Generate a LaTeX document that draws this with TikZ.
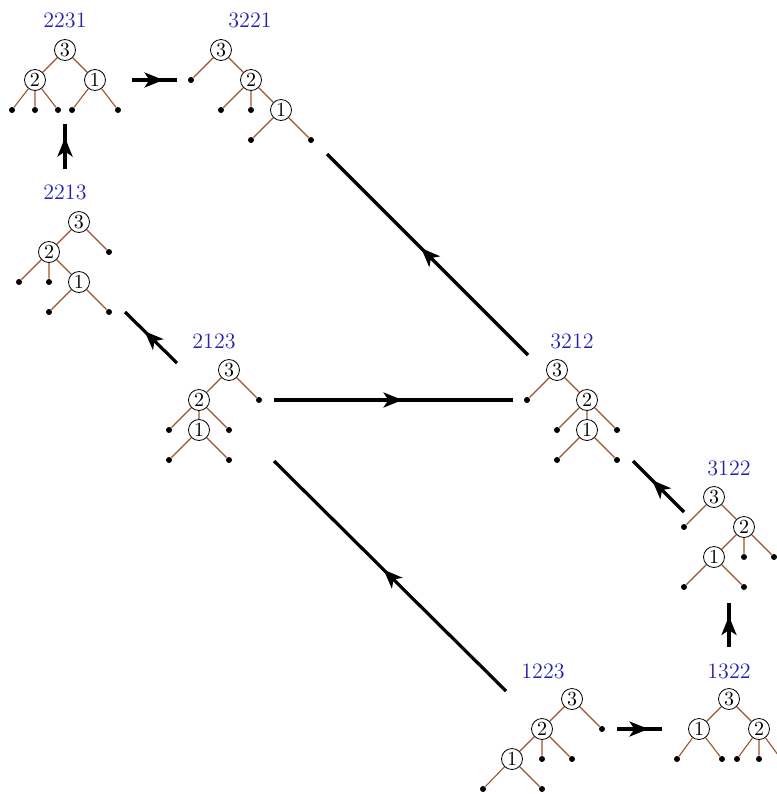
\documentclass[tikz,border=0pt]{standalone}
\usetikzlibrary{arrows.meta, decorations.markings}
\definecolor{branchbrown}{RGB}{160, 82, 45}
\definecolor{tagblue}{RGB}{35, 35, 175}

\begin{document}
\begin{tikzpicture}[
    x=0.5pt, y=-0.5pt,
    vert/.style={circle, draw, thin, fill=white, inner sep=0pt, minimum size=10.5pt, font=\fontsize{10}{12}\selectfont},
    leaf/.style={circle, fill=black, inner sep=0pt, minimum size=3pt},
    branch/.style={draw=branchbrown, line width=0.55pt},
    tag/.style={text=tagblue, font=\fontsize{11}{13}\selectfont},
    flip/.style={line width=1.6pt, postaction={decorate}, decoration={markings, mark=at position 0.5 with {\arrow[xshift=4.5pt]{Stealth[length=9.5pt, width=7.5pt, inset=2.5pt]}}}}
]
\useasboundingbox (0,0) rectangle (777,794);
\clip (0,0) rectangle (777,794);

% 2231
\node[tag] (t2231) at (65,20) {2231};
\node[vert] (a3) at (65,50) {3};
\node[vert] (a2) at (35,80) {2};
\node[vert] (a1) at (95,80) {1};
\node[leaf] (a4) at (12,110) {};
\node[leaf] (a5) at (35,110) {};
\node[leaf] (a6) at (58,110) {};
\node[leaf] (a7) at (72,110) {};
\node[leaf] (a8) at (118,110) {};
\draw[branch] (a3) -- (a2) (a3) -- (a1) (a2) -- (a4) (a2) -- (a5) (a2) -- (a6) (a1) -- (a7) (a1) -- (a8);

% 3221
\node[tag] (t3221) at (250,20) {3221};
\node[vert] (b3) at (221,50) {3};
\node[leaf] (b4) at (191,80) {};
\node[vert] (b2) at (251,80) {2};
\node[leaf] (b5) at (221,110) {};
\node[leaf] (b6) at (251,110) {};
\node[vert] (b1) at (281,110) {1};
\node[leaf] (b7) at (251,140) {};
\node[leaf] (b8) at (311,140) {};
\draw[branch] (b3) -- (b4) (b3) -- (b2) (b2) -- (b5) (b2) -- (b6) (b2) -- (b1) (b1) -- (b7) (b1) -- (b8);

% 2213
\node[tag] (t2213) at (65,192) {2213};
\node[vert] (c3) at (79,222) {3};
\node[vert] (c2) at (49,252) {2};
\node[leaf] (c4) at (109,252) {};
\node[leaf] (c5) at (19,282) {};
\node[leaf] (c6) at (49,282) {};
\node[vert] (c1) at (79,282) {1};
\node[leaf] (c7) at (49,312) {};
\node[leaf] (c8) at (109,312) {};
\draw[branch] (c3) -- (c2) (c3) -- (c4) (c2) -- (c5) (c2) -- (c6) (c2) -- (c1) (c1) -- (c7) (c1) -- (c8);

% 2123
\node[tag] (t2123) at (214,341) {2123};
\node[vert] (d3) at (229,370) {3};
\node[vert] (d2) at (199,400) {2};
\node[leaf] (d4) at (259,400) {};
\node[leaf] (d5) at (169,430) {};
\node[vert] (d1) at (199,430) {1};
\node[leaf] (d6) at (229,430) {};
\node[leaf] (d7) at (169,460) {};
\node[leaf] (d8) at (229,460) {};
\draw[branch] (d3) -- (d2) (d3) -- (d4) (d2) -- (d5) (d2) -- (d1) (d2) -- (d6) (d1) -- (d7) (d1) -- (d8);

% 3212
\node[tag] (t3212) at (572,341) {3212};
\node[vert] (e3) at (557,370) {3};
\node[leaf] (e4) at (527,400) {};
\node[vert] (e2) at (587,400) {2};
\node[leaf] (e5) at (557,430) {};
\node[vert] (e1) at (587,430) {1};
\node[leaf] (e6) at (617,430) {};
\node[leaf] (e7) at (557,460) {};
\node[leaf] (e8) at (617,460) {};
\draw[branch] (e3) -- (e4) (e3) -- (e2) (e2) -- (e5) (e2) -- (e1) (e2) -- (e6) (e1) -- (e7) (e1) -- (e8);

% 3122
\node[tag] (t3122) at (729,468) {3122};
\node[vert] (f3) at (714,497) {3};
\node[leaf] (f4) at (684,527) {};
\node[vert] (f2) at (744,527) {2};
\node[vert] (f1) at (714,557) {1};
\node[leaf] (f5) at (744,557) {};
\node[leaf] (f6) at (774,557) {};
\node[leaf] (f7) at (684,587) {};
\node[leaf] (f8) at (744,587) {};
\draw[branch] (f3) -- (f4) (f3) -- (f2) (f2) -- (f1) (f2) -- (f5) (f2) -- (f6) (f1) -- (f7) (f1) -- (f8);

% 1223
\node[tag] (t1223) at (543,671) {1223};
\node[vert] (g3) at (572,699) {3};
\node[vert] (g2) at (542,729) {2};
\node[leaf] (g4) at (602,729) {};
\node[vert] (g1) at (512,759) {1};
\node[leaf] (g5) at (542,759) {};
\node[leaf] (g6) at (572,759) {};
\node[leaf] (g7) at (483,789) {};
\node[leaf] (g8) at (542,789) {};
\draw[branch] (g3) -- (g2) (g3) -- (g4) (g2) -- (g1) (g2) -- (g5) (g2) -- (g6) (g1) -- (g7) (g1) -- (g8);

% 1322
\node[tag] (t1322) at (729,671) {1322};
\node[vert] (h3) at (729,699) {3};
\node[vert] (h1) at (699,729) {1};
\node[vert] (h2) at (759,729) {2};
\node[leaf] (h4) at (677,759) {};
\node[leaf] (h5) at (722,759) {};
\node[leaf] (h6) at (737,759) {};
\node[leaf] (h7) at (759,759) {};
\node[leaf] (h8) at (781,759) {};
\draw[branch] (h3) -- (h1) (h3) -- (h2) (h1) -- (h4) (h1) -- (h5) (h2) -- (h6) (h2) -- (h7) (h2) -- (h8);

% moves between trees
\coordinate (m1a) at (132,80);  \coordinate (m1b) at (177,80);
\coordinate (m2a) at (65,169);  \coordinate (m2b) at (65,124);
\coordinate (m3a) at (177,363); \coordinate (m3b) at (125,312);
\coordinate (m4a) at (528,355); \coordinate (m4b) at (327,154);
\coordinate (m5a) at (274,400); \coordinate (m5b) at (513,400);
\coordinate (m6a) at (506,691); \coordinate (m6b) at (274,461);
\coordinate (m7a) at (684,512); \coordinate (m7b) at (633,461);
\coordinate (m8a) at (617,729); \coordinate (m8b) at (662,729);
\coordinate (m9a) at (729,647); \coordinate (m9b) at (729,603);
\draw[flip] (m1a) -- (m1b);
\draw[flip] (m2a) -- (m2b);
\draw[flip] (m3a) -- (m3b);
\draw[flip] (m4a) -- (m4b);
\draw[flip] (m5a) -- (m5b);
\draw[flip] (m6a) -- (m6b);
\draw[flip] (m7a) -- (m7b);
\draw[flip] (m8a) -- (m8b);
\draw[flip] (m9a) -- (m9b);
\end{tikzpicture}
\end{document}
